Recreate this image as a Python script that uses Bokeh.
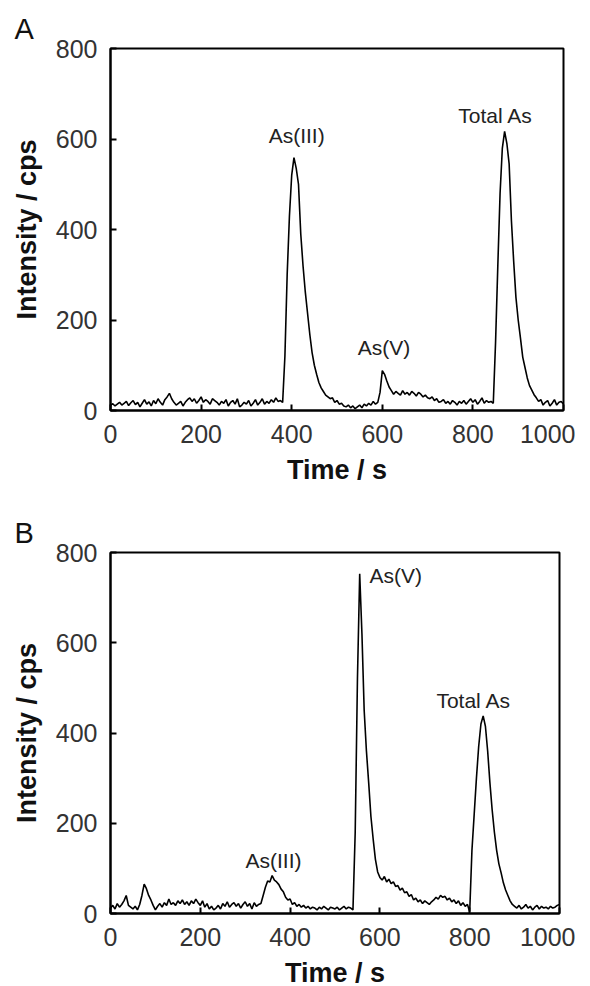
from bokeh.plotting import figure
from bokeh.models import Range1d, FixedTicker, Label
from bokeh.layouts import column
from bokeh.embed import file_html
from bokeh.resources import INLINE

# sampling times (s), 5 s steps
time_s = list(range(0, 1001, 5))

# Panel A intensities (cps)
intensity_a = [
    12, 15, 10, 14, 18, 12, 16, 20, 11, 17,
    22, 13, 18, 8, 16, 24, 14, 19, 10, 22,
    15, 26, 18, 12, 24, 30, 38, 26, 18, 12,
    16, 20, 10, 18, 24, 28, 20, 26, 16, 22,
    30, 18, 24, 20, 14, 26, 22, 18, 12, 20,
    16, 24, 10, 18, 22, 14, 26, 8, 12, 18,
    14, 22, 10, 16, 24, 12, 18, 26, 14, 20,
    16, 24, 18, 28, 20, 22, 18, 120, 300, 430,
    520, 559, 535, 500, 390, 320, 262, 215, 168, 128,
    100, 80, 62, 50, 42, 34, 30, 26, 28, 18,
    22, 14, 16, 10, 8, 12, 6, 10, 4, 8,
    12, 6, 14, 10, 16, 12, 20, 14, 18, 40,
    88, 80, 65, 52, 44, 36, 42, 38, 34, 44,
    36, 40, 34, 42, 38, 32, 40, 36, 30, 34,
    28, 26, 30, 22, 26, 18, 20, 24, 16, 20,
    14, 22, 18, 12, 20, 16, 22, 14, 20, 26,
    18, 24, 14, 20, 28, 16, 22, 18, 20, 16,
    150, 320, 480, 580, 617, 590, 545, 420, 330, 250,
    200, 160, 118, 95, 72, 55, 45, 35, 28, 20,
    24, 12, 18, 22, 10, 16, 24, 12, 18, 20,
    14,
]

# Panel B intensities (cps)
intensity_b = [
    12, 18, 10, 22, 14, 20, 28, 40, 18, 14,
    10, 16, 8, 20, 40, 65, 55, 40, 30, 18,
    8, 16, 22, 14, 24, 18, 32, 20, 24, 18,
    28, 22, 30, 20, 26, 18, 28, 22, 32, 24,
    18, 28, 14, 22, 10, 16, 8, 12, 18, 10,
    22, 16, 26, 14, 20, 24, 16, 22, 12, 20,
    26, 16, 22, 10, 24, 16, 20, 22, 40, 58,
    72, 70, 84, 74, 70, 64, 54, 48, 36, 30,
    32, 20, 24, 16, 20, 14, 18, 12, 16, 10,
    14, 12, 8, 14, 10, 16, 12, 8, 14, 12,
    10, 14, 8, 12, 16, 10, 14, 12, 8, 180,
    520, 753, 620, 450, 360, 290, 215, 165, 120, 92,
    80, 74, 82, 70, 76, 66, 70, 60, 62, 52,
    56, 46, 48, 38, 42, 30, 34, 26, 30, 22,
    28, 24, 20, 26, 30, 36, 32, 40, 36, 38,
    30, 34, 26, 30, 22, 28, 18, 24, 16, 20,
    4, 140, 220, 300, 370, 420, 438, 415, 360, 290,
    230, 180, 140, 110, 90, 68, 52, 40, 28, 20,
    16, 12, 18, 10, 14, 20, 12, 16, 8, 14,
    18, 10, 16, 12, 14, 10, 16, 12, 14, 18,
    20,
]

x_ticks = [0, 200, 400, 600, 800, 1000]
y_ticks = [0, 200, 400, 600, 800]

# peak annotations: (text, time, intensity, align)
labels_a = [("As(III)", 411, 608, "center"), ("As(V)", 604, 139, "center"), ("Total As", 850, 652, "center")]
labels_b = [("As(III)", 363, 117, "center"), ("As(V)", 577, 749, "left"), ("Total As", 809, 472, "center")]

FONT = "Liberation Sans"


def make_panel(letter, y, labels, fw, fh, top, bottom, right):
    p = figure(frame_width=fw, frame_height=fh, output_backend="svg", toolbar_location=None,
               x_range=Range1d(0, 1000), y_range=Range1d(0, 800),
               min_border_left=110, min_border_top=top, min_border_bottom=bottom,
               min_border_right=right)
    p.title.text = letter
    p.title.align = "left"
    p.title.offset = -96
    p.title.text_font = FONT
    p.title.text_font_size = "29px"
    p.title.text_font_style = "normal"
    p.title.text_color = "#111111"
    p.title.standoff = 7
    p.grid.visible = False
    p.background_fill_color = "white"
    p.border_fill_color = "white"
    p.outline_line_color = "black"
    p.outline_line_width = 2
    p.line(time_s, y, line_color="black", line_width=1.6)
    for ax in (p.xaxis, p.yaxis):
        ax.axis_line_width = 2
        ax.axis_line_color = "black"
        ax.major_tick_in = 6
        ax.major_tick_out = 0
        ax.major_tick_line_width = 2
        ax.minor_tick_line_color = None
        ax.major_label_text_font = FONT
        ax.major_label_text_font_size = "25px"
        ax.major_label_text_color = "#333333"
        ax.axis_label_text_font = FONT
        ax.axis_label_text_font_size = "27px"
        ax.axis_label_text_font_style = "bold"
        ax.axis_label_text_color = "#111111"
    p.xaxis.ticker = FixedTicker(ticks=x_ticks)
    p.yaxis.ticker = FixedTicker(ticks=y_ticks)
    p.xaxis.axis_label = "Time / s"
    p.yaxis.axis_label = "Intensity / cps"
    p.xaxis.major_label_standoff = 14
    p.yaxis.major_label_standoff = 13
    p.xaxis.axis_label_standoff = 9
    p.yaxis.axis_label_standoff = 11
    for txt, lx, ly, al in labels:
        p.add_layout(Label(x=lx, y=ly, text=txt, text_font=FONT, text_font_size="21px",
                           text_align=al, text_baseline="middle", text_color="#222222"))
    return p


pA = make_panel("A", intensity_a, labels_a, 453, 362, 48, 80, 12)
pB = make_panel("B", intensity_b, labels_b, 449, 361, 62, 64, 16)

layout = column(pA, pB, spacing=0)
open("out.html", "w").write(file_html(layout, INLINE))
